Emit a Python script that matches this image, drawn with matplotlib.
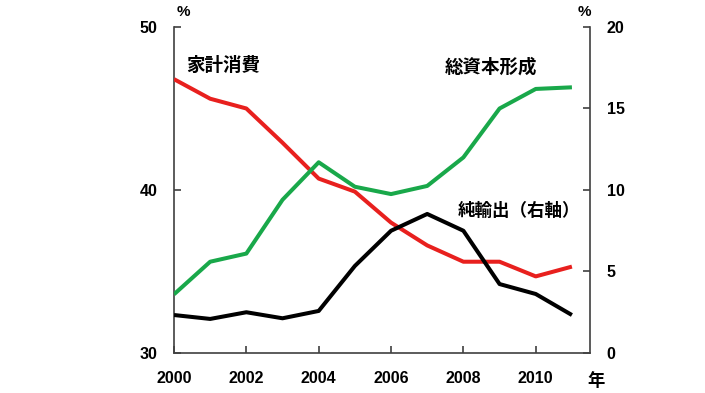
import matplotlib
matplotlib.use("Agg")
import matplotlib.pyplot as plt

years = [2000, 2001, 2002, 2003, 2004, 2005, 2006, 2007, 2008, 2009, 2010, 2011]
household = [46.8, 45.6, 45.0, 42.9, 40.7, 39.9, 38.0, 36.6, 35.6, 35.6, 34.7, 35.3]
capital = [33.6, 35.6, 36.1, 39.4, 41.7, 40.2, 39.75, 40.25, 42.0, 45.0, 46.2, 46.3]
netexports = [2.33, 2.09, 2.5, 2.13, 2.58, 5.34, 7.5, 8.53, 7.5, 4.23, 3.62, 2.33]

xticks = [2000, 2002, 2004, 2006, 2008, 2010]
left_ticks = [30, 40, 50]
right_ticks = [0, 5, 10, 15, 20]

jp = ['Noto Sans CJK JP', 'DejaVu Sans']
num = 'Liberation Sans'

fig = plt.figure(figsize=(7.05, 3.93), dpi=100)
ax = fig.add_axes([174/705, 1-353/393, (590-174)/705, (353-27)/393])
ax2 = ax.twinx()

red = '#E8201E'
green = '#19A84A'
ax.plot(years, household, color=red, lw=2.9, solid_capstyle='butt', zorder=3)
ax.plot(years, capital, color=green, lw=2.9, solid_capstyle='butt', zorder=3)
ax2.plot(years, netexports, color='black', lw=2.9, solid_capstyle='butt', zorder=3)

ax.set_xlim(2000, 2011.5)
ax.set_ylim(30, 50)
ax2.set_ylim(0, 20)

ax.set_xticks(xticks)
ax.set_yticks(left_ticks)
ax2.set_yticks(right_ticks)

for a in (ax, ax2):
    a.spines['top'].set_visible(False)
    for s in ('left', 'right', 'bottom'):
        a.spines[s].set_color('#404040')
        a.spines[s].set_linewidth(1.2)
ax.spines['right'].set_visible(False)
ax2.spines['left'].set_visible(False)
ax2.spines['bottom'].set_visible(False)

ax.tick_params(axis='both', direction='in', length=5, width=1.2, color='#404040')
ax2.tick_params(axis='y', direction='in', length=5, width=1.2, color='#404040')
ax.tick_params(axis='x', pad=13)
ax.tick_params(axis='y', pad=12)
ax2.tick_params(axis='y', pad=12)

for lab in ax.get_xticklabels() + ax.get_yticklabels() + ax2.get_yticklabels():
    lab.set_fontfamily(num)
    lab.set_fontweight('bold')
    lab.set_fontsize(11.5)

fig.text(183/705, 1-12/393, '%', ha='center', va='center', family=num, fontweight='bold', fontsize=11)
fig.text(584/705, 1-12/393, '%', ha='center', va='center', family=num, fontweight='bold', fontsize=11)
fig.text(596/705, 1-381/393, '年', ha='center', va='center', family=jp, fontweight='bold', fontsize=12.5)

fig.text(186/705, 1-65/393, '家計消費', ha='left', va='center', family=jp, fontweight='bold', fontsize=13.3)
fig.text(445/705, 1-67/393, '総資本形成', ha='left', va='center', family=jp, fontweight='bold', fontsize=13.3)
fig.text(458/705, 1-211/393, '純輸出（右軸）', ha='left', va='center', family=jp, fontweight='bold', fontsize=12.6)

fig.savefig('out.png', dpi=100, facecolor='white')
